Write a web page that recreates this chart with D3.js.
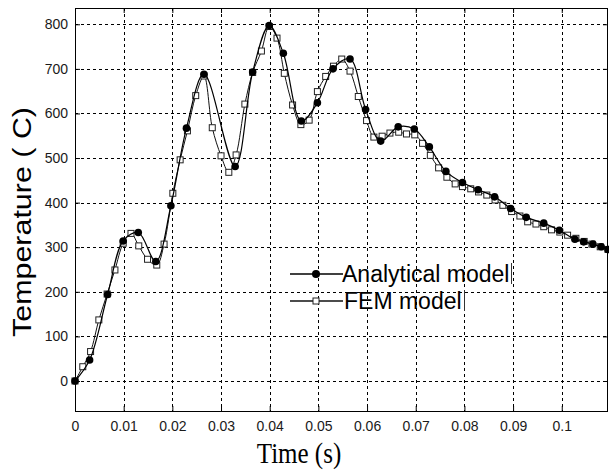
<!DOCTYPE html>
<html>
<head>
<meta charset="utf-8">
<script src="https://cdn.jsdelivr.net/npm/d3@7"></script>
<style>
  html, body { margin: 0; padding: 0; background: #fff; }
  svg { display: block; }
</style>
</head>
<body>
<script>
// ---- data ----
const analyticalTime = [0, 0.003, 0.0067, 0.0099, 0.013, 0.0166, 0.0197, 0.0229, 0.0265, 0.0329, 0.0365, 0.0399, 0.0428, 0.0465, 0.0498, 0.053, 0.0565, 0.0597, 0.0628, 0.0664, 0.0697, 0.0728, 0.0762, 0.0796, 0.0828, 0.0862, 0.0895, 0.0927, 0.0963, 0.0995, 0.1027, 0.1045, 0.1064, 0.1081, 0.1095];
const analyticalTemp = [0, 47, 194, 314, 333, 268, 393, 567, 688, 481, 693, 797, 735, 583, 624, 700, 722, 609, 538, 570, 565, 525, 470, 445, 429, 413, 387, 367, 354, 338, 318, 312, 307, 301, 295];

const femTime = [0, 0.0016, 0.0032, 0.0049, 0.0066, 0.0082, 0.0099, 0.0115, 0.0131, 0.0149, 0.0168, 0.0183, 0.0201, 0.0216, 0.0231, 0.0248, 0.0265, 0.0282, 0.03, 0.0316, 0.0331, 0.0349, 0.0365, 0.0383, 0.0399, 0.0415, 0.043, 0.0447, 0.0464, 0.0481, 0.0498, 0.0515, 0.0531, 0.0548, 0.0565, 0.0582, 0.0599, 0.0614, 0.0631, 0.0647, 0.0665, 0.0681, 0.0698, 0.0714, 0.073, 0.0747, 0.0764, 0.0781, 0.0796, 0.0813, 0.0829, 0.0846, 0.0863, 0.0879, 0.0897, 0.0914, 0.093, 0.0947, 0.0963, 0.0979, 0.0996, 0.1012, 0.1029, 0.1046, 0.1062, 0.1079, 0.1095];
const femTemp = [0, 32, 66, 137, 195, 249, 309, 331, 303, 273, 260, 307, 421, 496, 561, 640, 684, 568, 505, 468, 507, 621, 692, 740, 795, 769, 690, 619, 575, 585, 649, 683, 706, 722, 695, 638, 584, 547, 549, 556, 558, 554, 552, 533, 506, 478, 457, 442, 436, 431, 424, 417, 406, 394, 380, 370, 357, 352, 346, 339, 334, 327, 320, 313, 307, 301, 295];

const xTicks = [0, 0.01, 0.02, 0.03, 0.04, 0.05, 0.06, 0.07, 0.08, 0.09, 0.1];
const xTickLabels = ["0", "0.01", "0.02", "0.03", "0.04", "0.05", "0.06", "0.07", "0.08", "0.09", "0.1"];
const yTicks = [0, 100, 200, 300, 400, 500, 600, 700, 800];
const seriesNames = ["Analytical model", "FEM model"];
const xTitle = "Time (s)";
const yTitle = "Temperature ( C)";

// ---- layout ----
const W = 609, H = 470;
const L = 75, R = 608, T = 8, B = 411;

const svg = d3.select("body").append("svg").attr("width", W).attr("height", H);

const x = d3.scaleLinear().domain([0, 0.1095]).range([L, R]);
const y = d3.scaleLinear().domain([-67.3, 836.5]).range([B, T]);

// grid
const grid = svg.append("g");
grid.selectAll("line.vg").data(xTicks.filter(d => d > 0)).join("line")
  .attr("x1", d => Math.round(x(d)) + 0.5).attr("x2", d => Math.round(x(d)) + 0.5)
  .attr("y1", T).attr("y2", B)
  .attr("stroke", "#000").attr("stroke-width", 1).attr("stroke-dasharray", "3,3");
grid.selectAll("line.hg").data(yTicks).join("line")
  .attr("x1", L).attr("x2", R)
  .attr("y1", d => Math.round(y(d)) + 0.5).attr("y2", d => Math.round(y(d)) + 0.5)
  .attr("stroke", "#000").attr("stroke-width", 1).attr("stroke-dasharray", "3,3");

// axes (ticks inward)
const font = "'Liberation Sans', Arial, sans-serif";
const xAxis = d3.axisBottom(x).tickValues(xTicks).tickSize(-5).tickPadding(10)
  .tickFormat((d, i) => xTickLabels[i]);
const gx = svg.append("g").attr("transform", `translate(0,${B})`).call(xAxis);
gx.select(".domain").remove();
gx.selectAll("text").attr("font-family", font).attr("font-size", 14).attr("fill", "#1a1a1a");

const xAxisTop = d3.axisTop(x).tickValues(xTicks).tickSize(-5).tickFormat("");
const gxt = svg.append("g").attr("transform", `translate(0,${T})`).call(xAxisTop);
gxt.select(".domain").remove();

const yAxis = d3.axisLeft(y).tickValues(yTicks).tickSize(-5).tickPadding(7);
const gy = svg.append("g").attr("transform", `translate(${L},0)`).call(yAxis);
gy.select(".domain").remove();
gy.selectAll("text").attr("font-family", font).attr("font-size", 14).attr("fill", "#1a1a1a");

const yAxisR = d3.axisRight(y).tickValues(yTicks).tickSize(-5).tickFormat("");
const gyr = svg.append("g").attr("transform", `translate(${R},0)`).call(yAxisR);
gyr.select(".domain").remove();

// frame
svg.append("rect").attr("x", L + 0.5).attr("y", T + 0.5)
  .attr("width", R - L - 1).attr("height", B - T)
  .attr("fill", "none").attr("stroke", "#000").attr("stroke-width", 1);

// lines
const line = d3.line().curve(d3.curveCatmullRom.alpha(0.5));
const femPts = femTime.map((t, i) => [x(t), y(femTemp[i])]);
const anaPts = analyticalTime.map((t, i) => [x(t), y(analyticalTemp[i])]);

svg.append("path").attr("d", line(femPts)).attr("fill", "none")
  .attr("stroke", "#111").attr("stroke-width", 1);
svg.append("g").selectAll("rect").data(femPts).join("rect")
  .attr("x", d => d[0] - 3).attr("y", d => d[1] - 3)
  .attr("width", 6).attr("height", 6)
  .attr("fill", "#fff").attr("stroke", "#222").attr("stroke-width", 1);

svg.append("path").attr("d", line(anaPts)).attr("fill", "none")
  .attr("stroke", "#000").attr("stroke-width", 1.2);
svg.append("g").selectAll("circle").data(anaPts).join("circle")
  .attr("cx", d => d[0]).attr("cy", d => d[1]).attr("r", 3.8)
  .attr("fill", "#000");

// legend
const leg = svg.append("g");
const ly1 = 274, ly2 = 301;
leg.append("line").attr("x1", 290).attr("x2", 343).attr("y1", ly1).attr("y2", ly1)
  .attr("stroke", "#000").attr("stroke-width", 1.5);
leg.append("circle").attr("cx", 316).attr("cy", ly1).attr("r", 4).attr("fill", "#000");
leg.append("text").attr("x", 342).attr("y", ly1 + 8).text(seriesNames[0])
  .attr("font-family", font).attr("font-size", 23).attr("fill", "#000");
leg.append("line").attr("x1", 511.5).attr("x2", 511.5).attr("y1", 263).attr("y2", 284)
  .attr("stroke", "#333").attr("stroke-width", 1);

leg.append("line").attr("x1", 290).attr("x2", 343).attr("y1", ly2).attr("y2", ly2)
  .attr("stroke", "#111").attr("stroke-width", 1.4);
leg.append("rect").attr("x", 313).attr("y", ly2 - 3).attr("width", 6).attr("height", 6)
  .attr("fill", "#fff").attr("stroke", "#222").attr("stroke-width", 1);
leg.append("text").attr("x", 344).attr("y", ly2 + 8).text(seriesNames[1])
  .attr("font-family", font).attr("font-size", 23).attr("fill", "#000");
leg.append("line").attr("x1", 464.5).attr("x2", 464.5).attr("y1", 290).attr("y2", 311)
  .attr("stroke", "#333").attr("stroke-width", 1);

// titles
svg.append("g").attr("transform", "translate(299,462.5) scale(1,1.2)")
  .append("text").attr("x", 0).attr("y", 0).attr("text-anchor", "middle")
  .attr("font-family", "'Liberation Serif', 'Times New Roman', serif")
  .attr("font-size", 25).attr("fill", "#000").text(xTitle);

svg.append("text").attr("transform", "translate(31,222) rotate(-90)")
  .attr("text-anchor", "middle")
  .attr("font-family", font).attr("font-size", 25).attr("fill", "#000")
  .attr("textLength", 230).attr("lengthAdjust", "spacingAndGlyphs")
  .text(yTitle);
</script>
</body>
</html>
